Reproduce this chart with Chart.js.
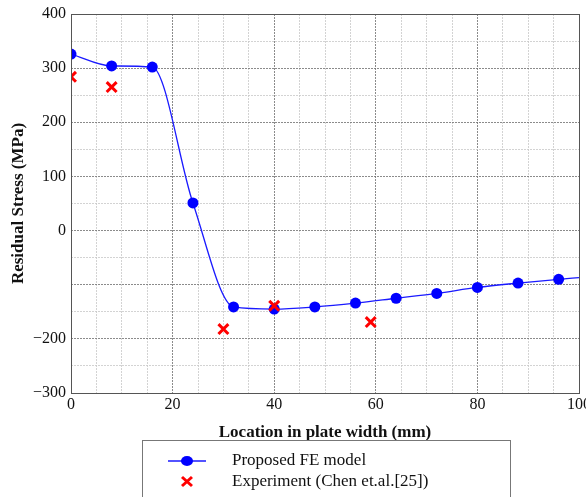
<!DOCTYPE html>
<html>
<head>
<meta charset="utf-8">
<script src="https://cdn.jsdelivr.net/npm/chart.js@4.4.1/dist/chart.umd.min.js"></script>
<style>
  html, body { margin: 0; padding: 0; background: #fff; }
  #wrap { width: 586px; height: 497px; position: relative; }
</style>
</head>
<body>
<div id="wrap"><canvas id="stressChart"></canvas></div>
<script>
// location along plate width (mm) and residual stress (MPa)
const feLocation = [0, 8, 16, 24, 32, 40, 48, 56, 64, 72, 80, 88, 96, 100];
const feStress   = [326, 304, 302, 51, -141, -145, -141, -134, -125, -116, -105, -97, -90, -87];
const expLocation = [0, 8, 30, 40, 59];
const expStress   = [284, 265, -182, -139, -169];
const xTickLabels = [0, 20, 40, 60, 80, 100];
const yTickLabels = [-300, -200, 0, 100, 200, 300, 400];

const serif = "'Liberation Serif', 'DejaVu Serif', serif";

// box round plot area + legend box at the bottom
const framePlugin = {
    id: "frame",
    afterDraw(chart){
        const ctx = chart.ctx;
        const a = chart.chartArea;
        ctx.save();
        ctx.strokeStyle = "#555";
        ctx.lineWidth = 1;
        ctx.strokeRect(a.left + 0.5, a.top + 0.5, a.right - a.left, a.bottom - a.top);

        // legend
        ctx.strokeStyle = "#777";
        ctx.strokeRect(142.5, 440.5, 368, 70);

        ctx.strokeStyle = "#1a1aff";
        ctx.lineWidth = 1.3;
        ctx.beginPath();
        ctx.moveTo(168, 461);
        ctx.lineTo(206, 461);
        ctx.stroke();
        ctx.fillStyle = "#0000ff";
        ctx.beginPath();
        ctx.ellipse(187, 461, 6, 5, 0, 0, Math.PI * 2);
        ctx.fill();

        ctx.strokeStyle = "#ff0000";
        ctx.lineWidth = 3;
        ctx.beginPath();
        ctx.moveTo(182, 477); ctx.lineTo(192, 486);
        ctx.moveTo(192, 477); ctx.lineTo(182, 486);
        ctx.stroke();

        ctx.fillStyle = "#111";
        ctx.font = "17px " + serif;
        ctx.textBaseline = "middle";
        ctx.fillText("Proposed FE model", 232, 461);
        ctx.fillText("Experiment (Chen et.al.[25])", 232, 482);
        ctx.restore();
    }
};

const gridColor = function(c){
    const v = c.tick ? c.tick.value : 0;
    return (v % 100 === 0) ? "rgba(110,110,110,0.8)" : "rgba(200,200,200,0.8)";
};
const xGridColor = function(c){
    const v = c.tick ? c.tick.value : 0;
    return (v % 20 === 0) ? "rgba(110,110,110,0.8)" : "rgba(200,200,200,0.8)";
};

new Chart(document.getElementById("stressChart"), {
    type: "line",
    data: {
        datasets: [
            {
                label: "Proposed FE model",
                data: feLocation.map((x, i) => ({ x: x, y: feStress[i] })),
                borderColor: "#1a1aff",
                backgroundColor: "#0000ff",
                borderWidth: 1.3,
                pointRadius: feLocation.map(x => x === 100 ? 0 : 5.5),
                pointHoverRadius: 5.5,
                pointBorderWidth: 0,
                cubicInterpolationMode: "monotone",
                clip: 0,
                order: 2
            },
            {
                label: "Experiment (Chen et.al.[25])",
                data: expLocation.map((x, i) => ({ x: x, y: expStress[i] })),
                showLine: false,
                pointStyle: "crossRot",
                pointRadius: 7,
                pointBorderWidth: 3,
                borderColor: "#ff0000",
                backgroundColor: "#ff0000",
                clip: 0,
                order: 1
            }
        ]
    },
    options: {
        responsive: true,
        maintainAspectRatio: false,
        animation: false,
        layout: {
            autoPadding: false,
            padding: { top: 14, right: 7, left: 0, bottom: 54 }
        },
        plugins: {
            legend: { display: false },
            tooltip: { enabled: false }
        },
        scales: {
            x: {
                type: "linear",
                min: 0,
                max: 100,
                afterFit(scale){
                    scale.height = 50;
                    scale.paddingRight = 0;
                    scale.paddingLeft = 0;
                },
                ticks: {
                    stepSize: 5,
                    autoSkip: false,
                    maxRotation: 0,
                    padding: 2,
                    color: "#111",
                    font: { family: serif, size: 16 },
                    callback: v => xTickLabels.includes(v) ? String(v) : ""
                },
                grid: { color: xGridColor, drawTicks: false, lineWidth: 1 },
                border: { display: false, dash: [2, 1] },
                title: {
                    display: true,
                    text: "Location in plate width (mm)",
                    color: "#111",
                    padding: { top: 2, bottom: 0 },
                    font: { family: serif, size: 17, weight: "bold" }
                }
            },
            y: {
                min: -300,
                max: 400,
                afterFit(scale){
                    scale.width = 71;
                    scale.paddingTop = 0;
                    scale.paddingBottom = 0;
                },
                ticks: {
                    stepSize: 50,
                    autoSkip: false,
                    padding: 5,
                    color: "#111",
                    font: { family: serif, size: 16 },
                    callback: v => yTickLabels.includes(v) ? (v < 0 ? "\u2212" + Math.abs(v) : String(v)) : ""
                },
                grid: { color: gridColor, drawTicks: false, lineWidth: 1 },
                border: { display: false, dash: [2, 1] },
                title: {
                    display: true,
                    text: "Residual Stress (MPa)",
                    color: "#111",
                    padding: { top: 8, bottom: 4 },
                    font: { family: serif, size: 17, weight: "bold" }
                }
            }
        }
    },
    plugins: [framePlugin]
});
</script>
</body>
</html>
